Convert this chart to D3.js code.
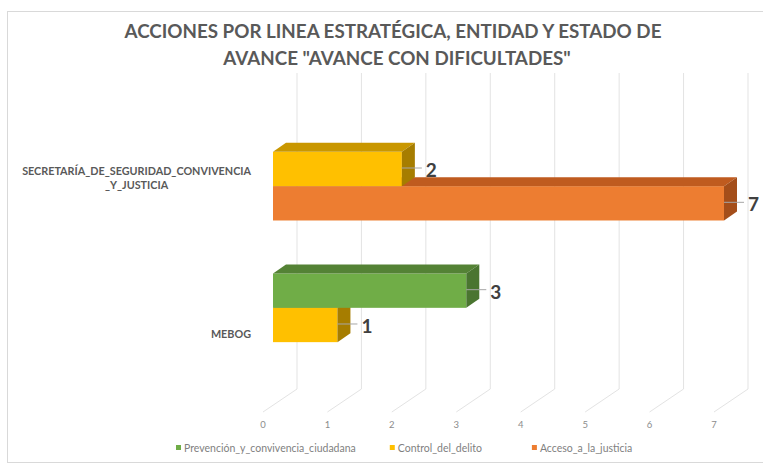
<!DOCTYPE html>
<html>
<head>
<meta charset="utf-8">
<script src="https://cdn.jsdelivr.net/npm/d3@7"></script>
<style>
  body { margin: 0; background: #fff; }
  svg { font-family: Lato, "Open Sans", sans-serif; }
</style>
</head>
<body>
<svg id="chart" width="763" height="464"></svg>
<script>
// data
const entidades = ["SECRETARÍA_DE_SEGURIDAD_CONVIVENCIA\n_Y_JUSTICIA", "MEBOG"];
const lineas = ["Prevención_y_convivencia_ciudadana", "Control_del_delito", "Acceso_a_la_justicia"];
const prevencion = [0, 3];
const control = [2, 1];
const acceso = [7, 0];
const ticks = [0, 1, 2, 3, 4, 5, 6, 7];

const colores = {
  front: ["#70AD47", "#FFC000", "#ED7D31"],
  top:   ["#548235", "#C99700", "#BF5B1F"],
  side:  ["#4A7530", "#A67D00", "#A44E1A"]
};

const valores = [prevencion, control, acceso];

const svg = d3.select("#chart");

// chart border
svg.append("rect")
  .attr("x", 7.5).attr("y", 11.5)
  .attr("width", 800).attr("height", 451)
  .attr("fill", "#fff").attr("stroke", "#d9d9d9");

// title
const title = svg.append("text")
  .attr("text-anchor", "middle")
  .attr("fill", "#595959")
  .style("font-size", "18.8px")
  .style("font-weight", 700);
title.append("tspan").attr("x", 393).attr("y", 38)
  .text("ACCIONES POR LINEA ESTRATÉGICA, ENTIDAD Y ESTADO DE");
title.append("tspan").attr("x", 397).attr("y", 65)
  .text("AVANCE \"AVANCE CON DIFICULTADES\"");

// scales (front face of the bars)
const x = d3.scaleLinear().domain([0, 7]).range([273, 724]);
const y = d3.scaleBand().domain(entidades).range([89, 405])
  .paddingInner(0.34).paddingOuter(0.183);
const ySerie = d3.scaleBand().domain(lineas).range([0, y.bandwidth()]);

// 3d offsets
const back = { dx: 24, dy: -16 };
const floorFront = { dx: -10, dy: 7 };
const depth = { dx: 13, dy: -9 };
const gridTop = 73, gridBottom = 389;

// gridlines on back wall + floor
const grid = svg.append("g").attr("stroke", "#e3e3e3").attr("fill", "none");
grid.selectAll("path")
  .data(ticks)
  .enter()
  .append("path")
  .attr("d", d => {
    const xb = x(d) + back.dx;
    const xf = x(d) + floorFront.dx;
    return `M${xb},${gridTop}V${gridBottom}L${xf},${gridBottom + 23}`;
  });

// tick labels
svg.append("g")
  .selectAll("text")
  .data(ticks)
  .enter()
  .append("text")
  .attr("x", d => x(d) + floorFront.dx)
  .attr("y", 428)
  .attr("text-anchor", "middle")
  .attr("fill", "#8c8c8c")
  .style("font-size", "9.5px")
  .text(d => d);

// bars: for each entity draw lower slot first so upper bars cover it
const barras = [];
entidades.forEach((e, i) => {
  for (let s = lineas.length - 1; s >= 0; s--) {
    const v = valores[s][i];
    if (v > 0) barras.push({ entidad: e, serie: s, valor: v });
  }
});

const bar = svg.append("g")
  .selectAll("g")
  .data(barras)
  .enter()
  .append("g");

function geo(d) {
  const y0 = y(d.entidad) + ySerie(lineas[d.serie]);
  const y1 = y0 + ySerie.bandwidth();
  return { x0: x(0), x1: x(d.valor), y0, y1 };
}

bar.append("rect")
  .attr("x", d => geo(d).x0)
  .attr("y", d => geo(d).y0)
  .attr("width", d => geo(d).x1 - geo(d).x0)
  .attr("height", d => geo(d).y1 - geo(d).y0)
  .attr("fill", d => colores.front[d.serie]);

bar.append("path")
  .attr("d", d => {
    const g = geo(d);
    return `M${g.x0},${g.y0}L${g.x0 + depth.dx},${g.y0 + depth.dy}L${g.x1 + depth.dx},${g.y0 + depth.dy}L${g.x1},${g.y0}Z`;
  })
  .attr("fill", d => colores.top[d.serie]);

bar.append("path")
  .attr("d", d => {
    const g = geo(d);
    return `M${g.x1},${g.y0}L${g.x1 + depth.dx},${g.y0 + depth.dy}L${g.x1 + depth.dx},${g.y1 + depth.dy}L${g.x1},${g.y1}Z`;
  })
  .attr("fill", d => colores.side[d.serie]);

// data labels with leader lines
bar.append("line")
  .attr("x1", d => geo(d).x1)
  .attr("x2", d => geo(d).x1 + 20)
  .attr("y1", d => (geo(d).y0 + geo(d).y1) / 2 - 1)
  .attr("y2", d => (geo(d).y0 + geo(d).y1) / 2 - 1)
  .attr("stroke", "#a6a6a6");

bar.append("text")
  .attr("x", d => geo(d).x1 + 24)
  .attr("y", d => (geo(d).y0 + geo(d).y1) / 2 + 8)
  .attr("fill", "#404040")
  .style("font-size", "19px")
  .style("font-weight", 700)
  .text(d => d.valor);

// category labels: block right-aligned, lines centered
svg.append("g")
  .selectAll("text")
  .data(entidades)
  .enter()
  .append("text")
  .attr("fill", "#595959")
  .style("font-size", "10.8px")
  .style("font-weight", 700)
  .each(function (d) {
    const t = d3.select(this);
    const lines = d.split("\n");
    const cy = y(d) + y.bandwidth() / 2 + 10;
    lines.forEach((l, k) => {
      t.append("tspan")
        .attr("y", cy - (lines.length - 1) * 7 + k * 14 + 3)
        .text(l);
    });
    let w = 0;
    t.selectAll("tspan").each(function () { w = Math.max(w, this.getComputedTextLength()); });
    t.attr("text-anchor", "middle");
    t.selectAll("tspan").attr("x", 251 - w / 2);
  });

// legend
const leg = svg.append("g").style("font-size", "10.5px");
const items = leg.selectAll("g")
  .data(lineas)
  .enter()
  .append("g");
items.append("rect")
  .attr("width", 5).attr("height", 5)
  .attr("y", 445)
  .attr("fill", (d, i) => colores.front[i]);
items.append("text")
  .attr("x", 8).attr("y", 452)
  .attr("fill", "#7f7f7f")
  .text(d => d);
let cx = 176;
const gaps = [34, 50];
items.each(function (d, i) {
  d3.select(this).attr("transform", `translate(${cx},0)`);
  cx += 8 + this.querySelector("text").getComputedTextLength() + (gaps[i] || 0);
});
</script>
</body>
</html>
